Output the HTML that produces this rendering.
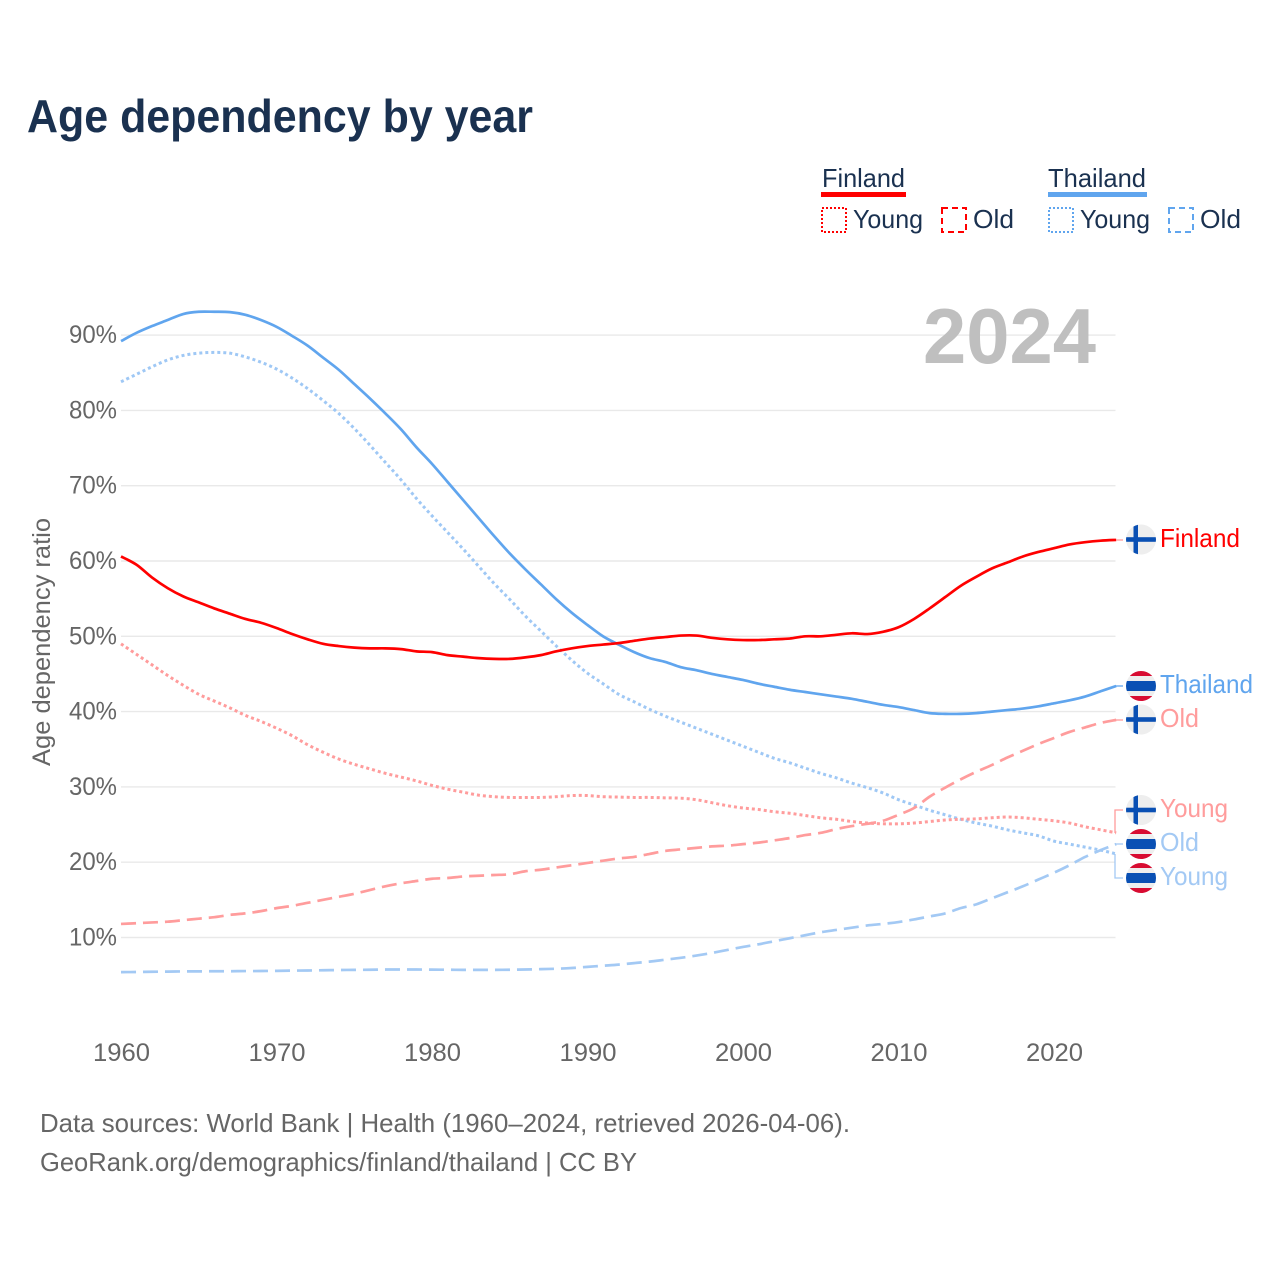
<!DOCTYPE html>
<html lang="en">
<head>
<meta charset="utf-8">
<title>Age dependency by year</title>
<style>
html,body{margin:0;padding:0;background:#fff;width:1280px;height:1280px;overflow:hidden}
svg{display:block;font-family:"Liberation Sans",sans-serif}
</style>
</head>
<body>
<svg id="chart" xmlns="http://www.w3.org/2000/svg" width="1280" height="1280" viewBox="0 0 1280 1280">
  <defs>
    <clipPath id="flag-clip"><circle cx="0" cy="0" r="15"/></clipPath>
    <g id="flag-fi">
      <g clip-path="url(#flag-clip)">
        <rect x="-15" y="-15" width="30" height="30" fill="#eeeeee"/>
        <rect x="-7.5" y="-15" width="4.5" height="30" fill="#0a50b4"/>
        <rect x="-15" y="-2.3" width="30" height="4.6" fill="#0a50b4"/>
      </g>
    </g>
    <g id="flag-th">
      <g clip-path="url(#flag-clip)">
        <rect x="-15" y="-15" width="30" height="30" fill="#eeeeee"/>
        <rect x="-15" y="-15" width="30" height="5" fill="#d80c32"/>
        <rect x="-15" y="10" width="30" height="5" fill="#d80c32"/>
        <rect x="-15" y="-5" width="30" height="10" fill="#0a50b4"/>
      </g>
    </g>
  </defs>

  <rect width="1280" height="1280" fill="#ffffff"/>

  <text x="27" y="132" font-size="46" font-weight="700" fill="#1a3150" textLength="506" lengthAdjust="spacingAndGlyphs">Age dependency by year</text>

  <g font-size="26" fill="#1a3150">
    <text x="822" y="187" textLength="83" lengthAdjust="spacingAndGlyphs">Finland</text>
    <rect x="821" y="192" width="85" height="5" fill="#ff0000"/>
    <rect x="822" y="208" width="24" height="24" fill="none" stroke="#ff0000" stroke-width="2" stroke-dasharray="2 2"/>
    <text x="853" y="228" textLength="70" lengthAdjust="spacingAndGlyphs">Young</text>
    <rect x="942" y="208" width="24" height="24" fill="none" stroke="#ff0000" stroke-width="2" stroke-dasharray="6 4"/>
    <text x="973" y="228" textLength="41" lengthAdjust="spacingAndGlyphs">Old</text>

    <text x="1048" y="187" textLength="98" lengthAdjust="spacingAndGlyphs">Thailand</text>
    <rect x="1048" y="192" width="99" height="5" fill="#60a5ee"/>
    <rect x="1049" y="208" width="24" height="24" fill="none" stroke="#60a5ee" stroke-width="2" stroke-dasharray="2 2"/>
    <text x="1080" y="228" textLength="70" lengthAdjust="spacingAndGlyphs">Young</text>
    <rect x="1169" y="208" width="24" height="24" fill="none" stroke="#60a5ee" stroke-width="2" stroke-dasharray="6 4"/>
    <text x="1200" y="228" textLength="41" lengthAdjust="spacingAndGlyphs">Old</text>
  </g>

  <g id="grid"></g>

  <text x="923" y="363" font-size="78" font-weight="700" fill="#bfbfbf" textLength="173" lengthAdjust="spacingAndGlyphs">2024</text>

  <g id="y-ticks"></g>
  <g id="x-ticks"></g>
  <text transform="translate(50,642) rotate(-90)" text-anchor="middle" font-size="25" fill="#666666" textLength="248" lengthAdjust="spacingAndGlyphs">Age dependency ratio</text>

  <g id="series"></g>

  <g fill="none" stroke-width="1.3">
    <path d="M1116 540H1123" stroke="#ff9c9c"/>
    <path d="M1116 686H1123" stroke="#60a5ee"/>
    <path d="M1116 720H1123" stroke="#ff9c9c"/>
    <path d="M1115 833V810H1123" stroke="#ff9c9c"/>
    <path d="M1115 844H1123" stroke="#a3c9f4"/>
    <path d="M1115 854V878H1123" stroke="#a3c9f4"/>
  </g>

  <use href="#flag-fi" x="1141" y="539.5"/>
  <use href="#flag-fi" x="1141" y="719.5"/>
  <use href="#flag-fi" x="1141" y="810"/>
  <use href="#flag-th" x="1141" y="686"/>
  <use href="#flag-th" x="1141" y="844"/>
  <use href="#flag-th" x="1141" y="878"/>

  <g font-size="26">
    <text x="1160" y="547" fill="#ff0000" textLength="80" lengthAdjust="spacingAndGlyphs">Finland</text>
    <text x="1160" y="693" fill="#60a5ee" textLength="93" lengthAdjust="spacingAndGlyphs">Thailand</text>
    <text x="1160" y="727" fill="#ff9c9c" textLength="39" lengthAdjust="spacingAndGlyphs">Old</text>
    <text x="1160" y="817" fill="#ff9c9c" textLength="68" lengthAdjust="spacingAndGlyphs">Young</text>
    <text x="1160" y="851" fill="#a3c9f4" textLength="39" lengthAdjust="spacingAndGlyphs">Old</text>
    <text x="1160" y="885" fill="#a3c9f4" textLength="68" lengthAdjust="spacingAndGlyphs">Young</text>
  </g>

  <g font-size="26" fill="#666666">
    <text x="40" y="1132" textLength="810" lengthAdjust="spacingAndGlyphs">Data sources: World Bank | Health (1960–2024, retrieved 2026-04-06).</text>
    <text x="40" y="1171" textLength="597" lengthAdjust="spacingAndGlyphs">GeoRank.org/demographics/finland/thailand | CC BY</text>
  </g>
</svg>
<script>
var startYear = 1960;
var xTickLabels = [1960, 1970, 1980, 1990, 2000, 2010, 2020];
var yTickLabels = [10, 20, 30, 40, 50, 60, 70, 80, 90];

var finlandTotal = [60.6,59.5,57.8,56.4,55.3,54.5,53.7,53.0,52.3,51.8,51.1,50.3,49.6,49.0,48.7,48.5,48.4,48.4,48.3,48.0,47.9,47.5,47.3,47.1,47.0,47.0,47.2,47.5,48.0,48.4,48.7,48.9,49.1,49.4,49.7,49.9,50.1,50.1,49.8,49.6,49.5,49.5,49.6,49.7,50.0,50.0,50.2,50.4,50.3,50.6,51.2,52.3,53.7,55.2,56.7,57.9,59.0,59.8,60.6,61.2,61.7,62.2,62.5,62.7,62.8];
var thailandTotal = [89.2,90.3,91.2,92.0,92.8,93.1,93.1,93.05,92.7,92.0,91.1,89.9,88.6,87.0,85.4,83.5,81.6,79.6,77.5,75.1,72.9,70.5,68.1,65.7,63.3,61.0,58.9,56.9,54.9,53.1,51.5,50.0,48.9,47.9,47.1,46.6,45.9,45.5,45.0,44.6,44.2,43.7,43.3,42.9,42.6,42.3,42.0,41.7,41.3,40.9,40.6,40.2,39.8,39.7,39.7,39.8,40.0,40.2,40.4,40.7,41.1,41.5,42.0,42.7,43.4];
var finlandYoung = [49.0,47.6,46.2,44.8,43.5,42.3,41.4,40.5,39.5,38.7,37.8,36.8,35.6,34.6,33.7,33.0,32.4,31.8,31.3,30.8,30.2,29.7,29.3,28.9,28.7,28.6,28.6,28.6,28.7,28.85,28.85,28.7,28.65,28.6,28.6,28.55,28.5,28.3,27.9,27.5,27.2,27.0,26.7,26.5,26.2,25.9,25.7,25.4,25.2,25.1,25.1,25.2,25.4,25.6,25.7,25.75,25.9,26.0,25.9,25.7,25.5,25.2,24.7,24.3,23.9];
var finlandOld = [11.8,11.9,12.0,12.1,12.3,12.5,12.7,13.0,13.2,13.5,13.9,14.2,14.6,15.0,15.4,15.8,16.3,16.8,17.2,17.5,17.8,17.9,18.1,18.2,18.3,18.4,18.8,19.0,19.3,19.6,19.9,20.2,20.5,20.7,21.1,21.5,21.7,21.9,22.1,22.2,22.4,22.6,22.9,23.2,23.6,23.9,24.4,24.8,25.1,25.5,26.3,27.2,28.7,29.9,31.0,32.0,32.9,33.9,34.8,35.7,36.5,37.3,37.9,38.5,38.9];
var thailandYoung = [83.8,84.8,85.8,86.7,87.3,87.6,87.7,87.6,87.1,86.4,85.5,84.3,82.9,81.3,79.6,77.6,75.4,73.1,70.8,68.3,66.0,63.8,61.6,59.3,57.0,54.9,52.7,50.7,48.7,46.8,45.1,43.7,42.3,41.3,40.3,39.4,38.6,37.8,37.0,36.2,35.4,34.6,33.8,33.2,32.5,31.8,31.2,30.5,29.9,29.2,28.3,27.6,26.9,26.3,25.7,25.2,24.8,24.3,23.9,23.5,22.8,22.4,22.0,21.6,21.1];
var thailandOld = [5.4,5.42,5.45,5.47,5.5,5.5,5.52,5.52,5.54,5.55,5.57,5.6,5.62,5.65,5.68,5.7,5.72,5.75,5.75,5.75,5.73,5.72,5.7,5.7,5.7,5.72,5.75,5.8,5.85,5.95,6.1,6.25,6.4,6.6,6.8,7.05,7.3,7.6,7.95,8.35,8.75,9.1,9.5,9.9,10.3,10.7,11.0,11.3,11.6,11.8,12.05,12.4,12.8,13.2,13.9,14.4,15.2,16.0,16.8,17.7,18.6,19.6,20.7,21.6,22.4];

function xScale(year) { return 121 + (year - 1960) * 15.55; }
function yScale(value) { return 937.5 - (value - 10) * 7.53; }

var NS = 'http://www.w3.org/2000/svg';

function linePath(values) {
  var pts = values.map(function (v, i) { return [xScale(startYear + i), yScale(v)]; });
  var d = 'M' + pts[0][0].toFixed(2) + ' ' + pts[0][1].toFixed(2);
  for (var i = 0; i < pts.length - 1; i++) {
    var p0 = pts[Math.max(i - 1, 0)];
    var p1 = pts[i];
    var p2 = pts[i + 1];
    var p3 = pts[Math.min(i + 2, pts.length - 1)];
    d += 'C' + (p1[0] + (p2[0] - p0[0]) / 6).toFixed(2) + ' ' + (p1[1] + (p2[1] - p0[1]) / 6).toFixed(2) +
         ' ' + (p2[0] - (p3[0] - p1[0]) / 6).toFixed(2) + ' ' + (p2[1] - (p3[1] - p1[1]) / 6).toFixed(2) +
         ' ' + p2[0].toFixed(2) + ' ' + p2[1].toFixed(2);
  }
  return d;
}

function drawLine(values, color, dash, name) {
  var p = document.createElementNS(NS, 'path');
  
  
  p.setAttribute('d', linePath(values));
  p.setAttribute('fill', 'none');
  p.setAttribute('stroke', color);
  p.setAttribute('stroke-width', dash === '3 3' ? '3' : '2.7');
  p.setAttribute('stroke-linejoin', 'round');
  if (dash) p.setAttribute('stroke-dasharray', dash);
  document.getElementById('series').appendChild(p);
}

yTickLabels.forEach(function (v) {
  var line = document.createElementNS(NS, 'line');
  
  
  line.setAttribute('x1', 121);
  line.setAttribute('x2', 1115.5);
  line.setAttribute('y1', yScale(v));
  line.setAttribute('y2', yScale(v));
  line.setAttribute('stroke', '#e9e9e9');
  line.setAttribute('stroke-width', '1.4');
  document.getElementById('grid').appendChild(line);

  var t = document.createElementNS(NS, 'text');
  
  
  t.setAttribute('x', 69);
  t.setAttribute('y', yScale(v) + 8);
  t.setAttribute('font-size', '25');
  t.setAttribute('fill', '#666666');
  t.setAttribute('textLength', '48');
  t.setAttribute('lengthAdjust', 'spacingAndGlyphs');
  t.textContent = v + '%';
  document.getElementById('y-ticks').appendChild(t);
});

xTickLabels.forEach(function (year) {
  var t = document.createElementNS(NS, 'text');
  
  
  t.setAttribute('x', xScale(year) + 0.5);
  t.setAttribute('y', 1061);
  t.setAttribute('text-anchor', 'middle');
  t.setAttribute('font-size', '25');
  t.setAttribute('fill', '#666666');
  t.setAttribute('textLength', '57');
  t.setAttribute('lengthAdjust', 'spacingAndGlyphs');
  t.textContent = year;
  document.getElementById('x-ticks').appendChild(t);
});

drawLine(thailandOld, '#a3c9f4', '15 7', 'line-thailand-old');
drawLine(thailandYoung, '#9fc8f5', '3 3', 'line-thailand-young');
drawLine(finlandOld, '#ff9c9c', '15 7', 'line-finland-old');
drawLine(finlandYoung, '#ff9c9c', '3 3', 'line-finland-young');
drawLine(thailandTotal, '#60a5ee', '', 'line-thailand-total');
drawLine(finlandTotal, '#ff0000', '', 'line-finland-total');
</script>
</body>
</html>
